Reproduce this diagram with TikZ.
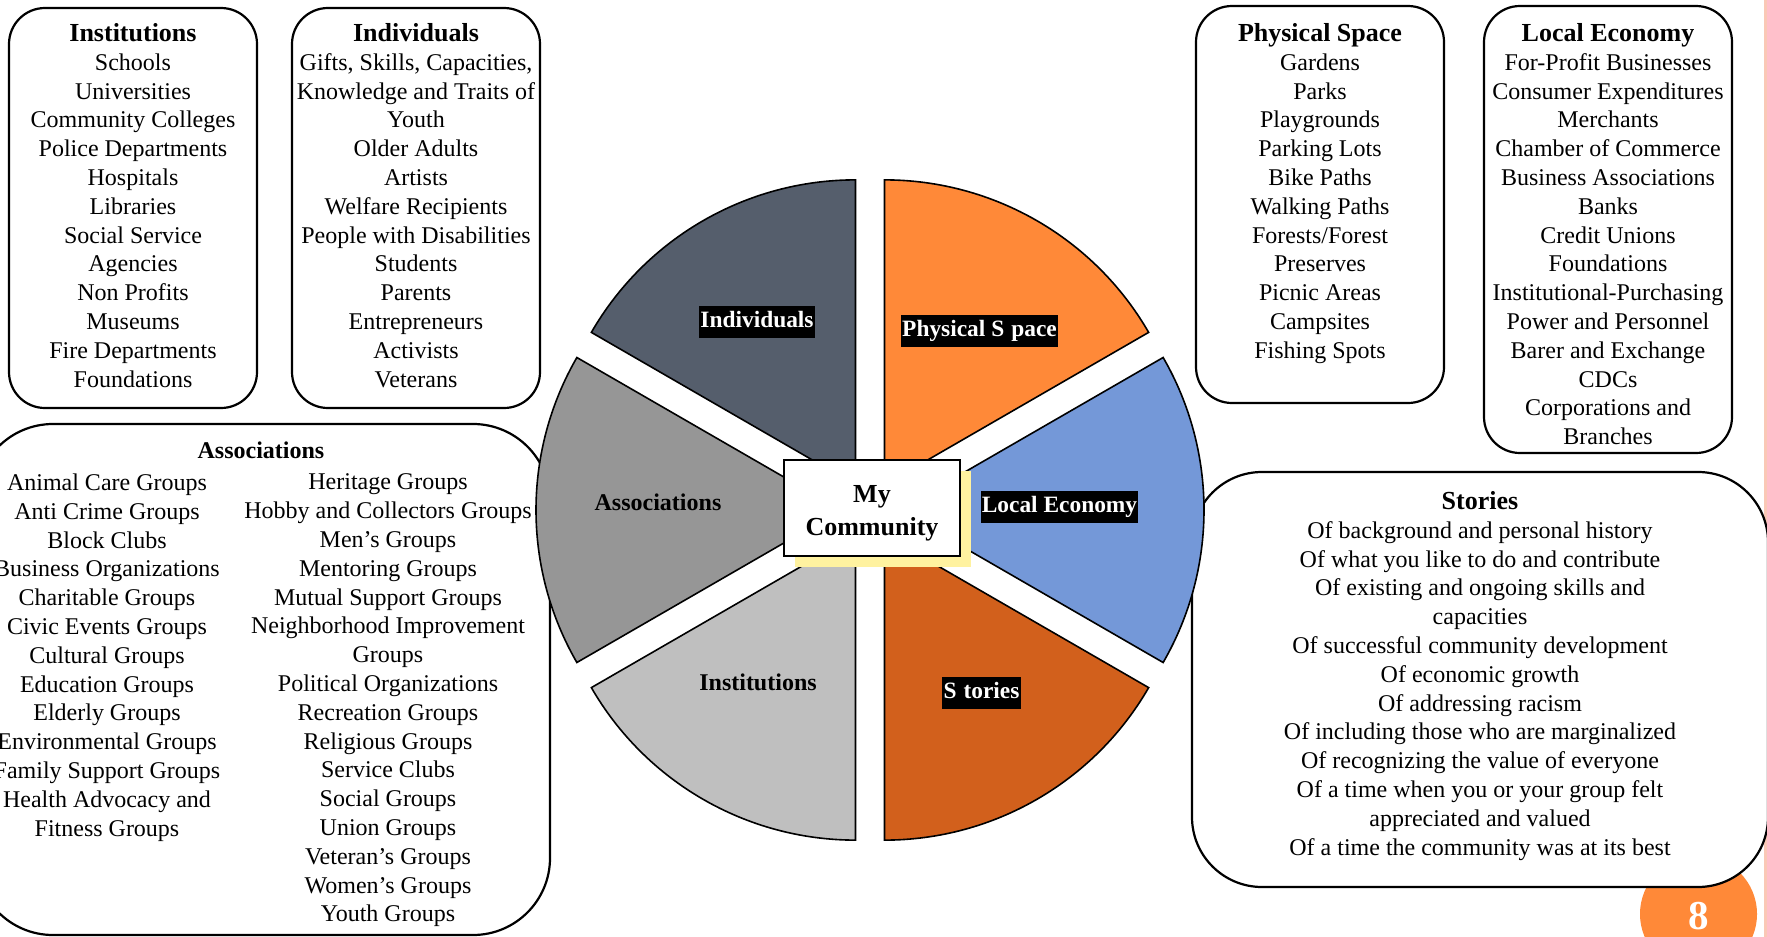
\documentclass[tikz,border=0pt]{standalone}
\usepackage{fontspec}
\setmainfont{Liberation Serif}
\usetikzlibrary{calc,shadows}
\definecolor{cIndiv}{RGB}{85,94,108}
\definecolor{cPhys}{RGB}{255,137,56}
\definecolor{cEcon}{RGB}{116,152,216}
\definecolor{cStory}{RGB}{210,96,28}
\definecolor{cInst}{RGB}{191,191,191}
\definecolor{cAssoc}{RGB}{150,150,150}
\definecolor{cShadow}{RGB}{255,242,160}
\definecolor{cPink}{RGB}{250,200,182}
\definecolor{cPage}{RGB}{255,137,56}
\newcommand\boxhead[1]{{\fontsize{13}{14.4}\selectfont\bfseries #1}}
\begin{document}
\begin{tikzpicture}[x=0.5pt,y=-0.5pt,
  listbox/.style={draw=black, line width=1.1pt, fill=white, rounded corners=18pt, inner sep=0pt},
  listtext/.style={align=center, inner sep=0pt, anchor=north, font=\fontsize{12}{14.4}\selectfont},
  slice/.style={draw=black, line width=0.8pt},
  darklabel/.style={fill=black, text=white, font=\bfseries\fontsize{11.7}{13}\selectfont,
    inner xsep=0.6pt, inner ysep=2.25pt, text height=8.5pt, text depth=3pt},
  plainlabel/.style={text=black, font=\bfseries\fontsize{12}{14}\selectfont, inner sep=0pt}]
\useasboundingbox (0,0) rectangle (1767,937);
\clip (0,0) rectangle (1767,937);
\fill[cPink] (1763.5,0) rectangle (1767,937);

% list boxes
\node[listbox, minimum width=124pt, minimum height=200pt] (instBox) at (133,208) {};
\node[listbox, minimum width=124pt, minimum height=200pt] (indivBox) at (416,208) {};
\node[listbox, minimum width=124pt, minimum height=198.5pt] (physBox) at (1320,204.5) {};
\node[listbox, minimum width=124pt, minimum height=223.5pt] (econBox) at (1608,229.5) {};
\node[listbox, rounded corners=38.5pt, minimum width=287pt, minimum height=255.5pt] (assocBox) at (263,679.5) {};

% page number
\node[circle, fill=cPage, minimum size=58.5pt, inner sep=0pt, text=white,
  font=\bfseries\fontsize{20.5}{24}\selectfont] (page) at (1698.5,914) {\raisebox{-1pt}[\height][\depth]{8}};

\node[listbox, rounded corners=35pt, minimum width=288pt, minimum height=207.5pt] (storyBox) at (1480,679.5) {};

% list texts
\node[listtext] (instText) at (133,23) {\boxhead{Institutions}\\Schools\\Universities\\Community Colleges\\Police Departments\\Hospitals\\Libraries\\Social Service\\Agencies\\Non Profits\\Museums\\Fire Departments\\Foundations};
\node[listtext] (indivText) at (416,23) {\boxhead{Individuals}\\Gifts, Skills, Capacities,\\Knowledge and Traits of\\Youth\\Older Adults\\Artists\\Welfare Recipients\\People with Disabilities\\Students\\Parents\\Entrepreneurs\\Activists\\Veterans};
\node[listtext] (physText) at (1320,23) {\boxhead{Physical Space}\\Gardens\\Parks\\Playgrounds\\Parking Lots\\Bike Paths\\Walking Paths\\Forests/Forest\\Preserves\\Picnic Areas\\Campsites\\Fishing Spots};
\node[listtext] (econText) at (1608,23) {\boxhead{Local Economy}\\For-Profit Businesses\\Consumer Expenditures\\Merchants\\Chamber of Commerce\\Business Associations\\Banks\\Credit Unions\\Foundations\\Institutional-Purchasing\\Power and Personnel\\Barer and Exchange\\CDCs\\Corporations and\\Branches};
\node[font=\bfseries\fontsize{12}{14.4}\selectfont, inner sep=0pt, anchor=base] (assocHead) at (261,458) {Associations};
\node[listtext] (assocLeft) at (107,473.5) {Animal Care Groups\\Anti Crime Groups\\Block Clubs\\Business Organizations\\Charitable Groups\\Civic Events Groups\\Cultural Groups\\Education Groups\\Elderly Groups\\Environmental Groups\\Family Support Groups\\Health Advocacy and\\Fitness Groups};
\node[listtext] (assocRight) at (388,473.5) {Heritage Groups\\Hobby and Collectors Groups\\Men’s Groups\\Mentoring Groups\\Mutual Support Groups\\Neighborhood Improvement\\Groups\\Political Organizations\\Recreation Groups\\Religious Groups\\Service Clubs\\Social Groups\\Union Groups\\Veteran’s Groups\\Women’s Groups\\Youth Groups};
\node[listtext] (storyText) at (1480,491) {\boxhead{Stories}\\Of background and personal history\\Of what you like to do and contribute\\Of existing and ongoing skills and\\capacities\\Of successful community development\\Of economic growth\\Of addressing racism\\Of including those who are marginalized\\Of recognizing the value of everyone\\Of a time when you or your group felt\\appreciated and valued\\Of a time the community was at its best};

% pie
\coordinate (pc) at (870,510);
\path[slice, fill=cPhys]  ($(pc)+(60:14.5pt)$)  -- ++(30:152.5pt)  arc[start angle=30,  end angle=90,  radius=152.5pt] -- cycle;
\path[slice, fill=cIndiv] ($(pc)+(120:14.5pt)$) -- ++(90:152.5pt)  arc[start angle=90,  end angle=150, radius=152.5pt] -- cycle;
\path[slice, fill=cAssoc] ($(pc)+(180:14.5pt)$) -- ++(150:152.5pt) arc[start angle=150, end angle=210, radius=152.5pt] -- cycle;
\path[slice, fill=cInst]  ($(pc)+(240:14.5pt)$) -- ++(210:152.5pt) arc[start angle=210, end angle=270, radius=152.5pt] -- cycle;
\path[slice, fill=cStory] ($(pc)+(300:14.5pt)$) -- ++(270:152.5pt) arc[start angle=270, end angle=330, radius=152.5pt] -- cycle;
\path[slice, fill=cEcon]  ($(pc)+(0:14.5pt)$)   -- ++(-30:152.5pt) arc[start angle=-30, end angle=30,  radius=152.5pt] -- cycle;

% centre
\node[draw=black, line width=1.2pt, fill=white, minimum width=88pt, minimum height=48pt,
  inner sep=0pt, font=\bfseries\fontsize{13}{16.5}\selectfont,
  general shadow={fill=cShadow, shadow xshift=5.5pt, shadow yshift=-5.5pt}] (mc) at (872,508)
  {\raisebox{-2.3pt}[\height][\depth]{\begin{tabular}{@{}c@{}}My\\Community\end{tabular}}};

% slice labels
\node[darklabel] (lIndiv) at (757,321.5) {Individuals};
\node[darklabel] (lPhys) at (979.5,330.5) {Physical S\kern3.5pt pace};
\node[darklabel] (lEcon) at (1059.5,507) {Local Economy};
\node[darklabel] (lStory) at (981.5,692.5) {S\kern3.5pt tories};
\node[plainlabel] (lInst) at (758,682) {Institutions};
\node[plainlabel] (lAssoc) at (658,502) {Associations};
\end{tikzpicture}
\end{document}
